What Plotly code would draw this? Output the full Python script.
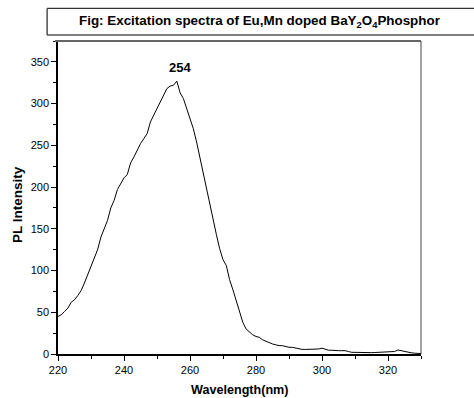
import plotly.graph_objects as go

wavelength = list(range(220, 331))
intensity = [
    45, 47, 51, 55, 62, 65, 70, 76, 85, 95,
    104, 113, 125, 140, 150, 160, 175, 184, 197, 204,
    211, 215, 229, 236, 245, 252, 258, 264, 278, 286,
    295, 301, 309, 318, 321, 322, 327, 313, 306, 294,
    281, 270, 254, 235, 218, 200, 181, 162, 143, 126,
    113, 106, 89, 77, 64, 50, 38, 30, 26, 23,
    21, 20, 17, 15, 13, 12, 11, 10, 10, 9,
    8, 8, 7, 6, 5.5, 5.5, 5.5, 5.5, 5.5, 6,
    7, 5.5, 4.5, 4.5, 4, 4, 4, 4, 3, 2,
    2, 1.8, 1.6, 1.6, 1.6, 1.6, 1.8, 2, 2, 2.2,
    2.4, 2.4, 3, 4.8, 4, 2.4, 2, 1.5, 1, 0.8,
    0.5,
]
x_range = [220, 330]
y_range = [0, 375]
x_ticks = [220, 240, 260, 280, 300, 320]
y_ticks = [0, 50, 100, 150, 200, 250, 300, 350]
peak_label = "254"
peak_pos = (256.9, 343)
title_text = "Fig: Excitation spectra of Eu,Mn doped BaY<sub>2</sub>O<sub>4</sub>Phosphor"
x_title = "Wavelength(nm)"
y_title = "PL Intensity"

FONT = "Arial, 'Liberation Sans', sans-serif"

fig = go.Figure()
fig.add_trace(go.Scatter(x=wavelength, y=intensity, mode="lines",
                         line=dict(color="black", width=1), showlegend=False,
                         hoverinfo="skip"))

axis_common = dict(showgrid=False, zeroline=False, showline=True, linecolor="black",
                   linewidth=1.5, ticks="outside", ticklen=5, tickwidth=1,
                   tickcolor="black", tickfont=dict(family=FONT, size=11, color="black"))

fig.update_xaxes(range=x_range, tickvals=x_ticks, ticktext=[str(v) for v in x_ticks],
                 minor=dict(dtick=10, ticks="outside", ticklen=3, tickcolor="black"),
                 **axis_common)
fig.update_yaxes(range=y_range, tickvals=y_ticks, ticktext=[str(v) for v in y_ticks],
                 minor=dict(dtick=25, ticks="outside", ticklen=3, tickcolor="black"),
                 **axis_common)

fig.update_layout(
    width=474, height=398,
    margin=dict(l=58, r=53, t=41, b=44),
    plot_bgcolor="white", paper_bgcolor="white",
    font=dict(family=FONT, color="black"),
)

# frame (top and right)
fig.add_shape(type="line", xref="paper", yref="paper", x0=-0.008, x1=1, y0=1, y1=1,
              line=dict(color="#666666", width=2))
fig.add_shape(type="line", xref="paper", yref="paper", x0=1, x1=1, y0=0, y1=1,
              line=dict(color="#444444", width=1))
# title box: open on the right, running past the page edge
box_line = dict(color="#333333", width=1.3)
fig.add_shape(type="line", xref="paper", yref="paper", x0=-0.030, x1=1.5, y0=1.104, y1=1.104,
              line=box_line)
fig.add_shape(type="line", xref="paper", yref="paper", x0=-0.030, x1=1.5, y0=1.019, y1=1.019,
              line=dict(color="#555555", width=1.6))
fig.add_shape(type="line", xref="paper", yref="paper", x0=-0.030, x1=-0.030, y0=1.019, y1=1.104,
              line=box_line)

fig.add_annotation(text="<b>" + title_text + "</b>", xref="paper", yref="paper",
                   x=0.556, y=1.061, showarrow=False, xanchor="center", yanchor="middle",
                   font=dict(family=FONT, size=13.4, color="black"))
fig.add_annotation(text="<b>" + peak_label + "</b>", x=peak_pos[0], y=peak_pos[1],
                   showarrow=False, xanchor="center", yanchor="middle",
                   font=dict(family=FONT, size=13, color="black"))
fig.add_annotation(text="<b>" + x_title + "</b>", xref="paper", yref="paper",
                   x=0.501, y=-0.115, showarrow=False, xanchor="center", yanchor="middle",
                   font=dict(family=FONT, size=12.6, color="black"))
fig.add_annotation(text="<b>" + y_title + "</b>", xref="paper", yref="paper",
                   x=-0.113, y=0.479, showarrow=False, xanchor="center", yanchor="middle",
                   textangle=-90, font=dict(family=FONT, size=13.5, color="black"))

fig.write_html("out.html", post_script="document.body.style.margin='0';",
               config={"displayModeBar": False})
